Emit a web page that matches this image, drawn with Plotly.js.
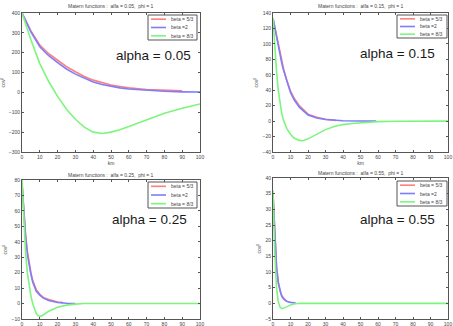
<!DOCTYPE html>
<html><head><meta charset="utf-8">
<script src="https://cdn.plot.ly/plotly-3.0.1.min.js"></script>
<style>html,body{margin:0;padding:0;background:#fff}#chart{width:453px;height:326px}</style>
</head><body><div id="chart"></div>
<script>
// ---------- data ----------
const seriesNames = ["beta = 5/3", "beta =2", "beta = 8/3"];
const alphas = ["0.05", "0.15", "0.25", "0.55"];
const xTicks = [0, 10, 20, 30, 40, 50, 60, 70, 80, 90, 100];

// panel 1 (alfa = 0.05)
const p1RedX   = [0, 5, 10, 15, 20, 25, 30, 35, 40, 45, 50, 55, 60, 70, 80, 90];
const p1RedY   = [400, 310, 238, 195, 162, 130, 104, 80, 62, 48, 37, 30, 23, 15, 11, 8];
const p1BlueX  = [0, 5, 10, 15, 20, 25, 30, 35, 40, 45, 50, 55, 60, 70, 80, 90, 100];
const p1BlueY  = [400, 305, 230, 185, 150, 118, 92, 70, 52, 40, 30, 23, 17, 10, 6, 3, 2];
const p1GreenX = [0, 5, 10, 15, 20, 25, 30, 35, 40, 45, 50, 55, 60, 65, 70, 80, 90, 100];
const p1GreenY = [400, 265, 145, 55, -20, -85, -135, -175, -200, -207, -200, -188, -172, -155, -137, -105, -80, -58];
const p1YTicks = [-300, -200, -100, 0, 100, 200, 300, 400];

// panel 2 (alfa = 0.15)
const p2RedX   = [0, 2, 4, 5, 6, 8, 10, 12, 15, 20, 25, 30, 36];
const p2RedY   = [133, 110, 88, 78, 68, 52, 39, 30, 20, 9, 5, 2.5, 1];
const p2BlueX  = [0, 2, 4, 5, 6, 8, 10, 12, 15, 20, 25, 30, 35, 40, 50, 59];
const p2BlueY  = [133, 108, 85, 75, 66, 50, 37, 28, 18, 8, 4, 2, 1, 0.5, 0.2, 0];
const p2GreenX = [0, 1, 2, 3, 4, 5, 6, 8, 10, 12, 15, 17, 20, 25, 30, 35, 40, 45, 50, 60, 70, 80, 100];
const p2GreenY = [133, 95, 65, 40, 22, 10, 1, -10, -17, -22, -25, -25.5, -23, -17, -11, -7, -4.5, -3, -2, -0.7, -0.2, 0, 0];
const p2YTicks = [-40, -20, 0, 20, 40, 60, 80, 100, 120, 140];

// panel 3 (alfa = 0.25)
const p3RedX   = [0, 1, 2, 3, 4, 5, 6, 8, 10, 12, 15, 20, 23];
const p3RedY   = [78, 60, 45, 34, 26, 20, 15, 9, 6, 4, 2.6, 1, 0.6];
const p3BlueX  = [0, 1, 2, 3, 4, 5, 6, 8, 10, 12, 15, 20, 25, 30];
const p3BlueY  = [78, 58, 43, 32, 25, 19, 14, 8, 5.5, 3.5, 2, 0.7, 0.2, 0];
const p3GreenX = [0, 1, 2, 3, 4, 5, 6, 7, 8, 9, 10, 11, 12, 15, 20, 25, 30, 35, 100];
const p3GreenY = [80, 55, 33, 20, 11, 5, 0, -4, -6.5, -7.8, -8.2, -8, -7.3, -5, -2.4, -1, -0.4, 0, 0];
const p3YTicks = [-10, 0, 10, 20, 30, 40, 50, 60, 70, 80];

// panel 4 (alfa = 0.55)
const p4RedX   = [0, 1, 2, 3, 4, 5, 6, 7, 8];
const p4RedY   = [35, 21, 12, 7, 4, 2.5, 1.6, 1, 0.6];
const p4BlueX  = [0, 1, 2, 3, 4, 5, 6, 7, 8, 10, 13];
const p4BlueY  = [35, 20.5, 11.5, 6.5, 3.8, 2.2, 1.4, 0.9, 0.6, 0.3, 0.1];
const p4GreenX = [0, 0.5, 1, 2, 3, 4, 5, 6, 7, 8, 10, 12, 15, 100];
const p4GreenY = [36, 25, 16, 5, 0.5, -1.2, -1.7, -1.6, -1.3, -1, -0.5, -0.2, 0, 0];
const p4YTicks = [-5, 0, 5, 10, 15, 20, 25, 30, 35, 40];

// ---------- layout helpers ----------
const W = 453, H = 326;
const colors = ["rgb(255,125,125)", "rgb(125,125,255)", "rgb(125,245,125)"];
const fx = p => p / W;
const fy = p => 1 - p / H;

const panels = [
  {xs: [p1RedX, p1BlueX, p1GreenX], ys: [p1RedY, p1BlueY, p1GreenY], yr: [-300, 400], yt: p1YTicks,
   box: [22, 200, 13, 152], leg: [148, 197, 15, 40], title: 6, lab: [114, 55], km: true},
  {xs: [p2RedX, p2BlueX, p2GreenX], ys: [p2RedY, p2BlueY, p2GreenY], yr: [-40, 140], yt: p2YTicks,
   box: [273, 448, 13, 152], leg: [397, 447, 15, 38], title: 6, lab: [358, 54], km: true},
  {xs: [p3RedX, p3BlueX, p3GreenX], ys: [p3RedY, p3BlueY, p3GreenY], yr: [-10, 80], yt: p3YTicks,
   box: [22, 200, 180, 319], leg: [148, 197, 182, 208], title: 175, lab: [110, 219], km: false},
  {xs: [p4RedX, p4BlueX, p4GreenX], ys: [p4RedY, p4BlueY, p4GreenY], yr: [-5, 40], yt: p4YTicks,
   box: [273, 448, 178, 319], leg: [397, 447, 181, 206], title: 173, lab: [358, 219], km: false}
];

const tickFont = {family: "Liberation Sans, Arial, sans-serif", size: 5, color: "#444"};
const data = [];
const layout = {
  width: W, height: H, margin: {l: 0, r: 0, t: 0, b: 0},
  paper_bgcolor: "#fff", plot_bgcolor: "#fff", showlegend: false,
  annotations: [], shapes: []
};

panels.forEach((p, i) => {
  const n = i + 1;
  const xa = "x" + (n === 1 ? "" : n), ya = "y" + (n === 1 ? "" : n);
  for (let s = 0; s < 3; s++) {
    data.push({x: p.xs[s], y: p.ys[s], xaxis: xa, yaxis: ya, type: "scatter", mode: "lines",
      name: seriesNames[s], line: {color: colors[s], width: 1.6}, hoverinfo: "skip"});
  }
  const axCommon = {showgrid: false, zeroline: false, showline: true, linecolor: "#555", linewidth: 1,
    mirror: "ticks", ticks: "inside", ticklen: 2, tickcolor: "#555", tickfont: tickFont,
    ticklabeloverflow: "allow"};
  const xAx = Object.assign({}, axCommon, {
    domain: [fx(p.box[0]), fx(p.box[1])], range: [0, 100], tickvals: xTicks, anchor: ya});
  if (p.km) xAx.title = {text: "km", font: tickFont, standoff: 2};
  layout["xaxis" + (n === 1 ? "" : n)] = xAx;
  layout["yaxis" + (n === 1 ? "" : n)] = Object.assign({}, axCommon, {
    domain: [fy(p.box[3]), fy(p.box[2])], range: p.yr, tickvals: p.yt, anchor: xa,
    title: {text: "cov<sup>β</sup>", font: tickFont, standoff: 3}});
  // title
  layout.annotations.push({xref: "paper", yref: "paper", x: fx((p.box[0] + p.box[1]) / 2), y: fy(p.title),
    xanchor: "center", yanchor: "middle", showarrow: false,
    text: "Matern functions :  alfa = " + alphas[i] + ",  phi = 1", font: tickFont});
  // alpha label
  layout.annotations.push({xref: "paper", yref: "paper", x: fx(p.lab[0]), y: fy(p.lab[1]),
    xanchor: "left", yanchor: "middle", showarrow: false,
    text: "alpha = " + alphas[i], font: {family: "Liberation Sans, Arial, sans-serif", size: 13.5, color: "#1a1a1a"}});
  // legend box
  const [lx0, lx1, ly0, ly1] = p.leg;
  layout.shapes.push({type: "rect", xref: "paper", yref: "paper", x0: fx(lx0), x1: fx(lx1), y0: fy(ly1), y1: fy(ly0),
    line: {color: "#555", width: 1}, fillcolor: "#fff"});
  const rowH = (ly1 - ly0) / 3;
  for (let s = 0; s < 3; s++) {
    const yy = ly0 + rowH * (s + 0.5);
    layout.shapes.push({type: "line", xref: "paper", yref: "paper", x0: fx(lx0 + 3), x1: fx(lx0 + 18),
      y0: fy(yy), y1: fy(yy), line: {color: colors[s], width: 1.6}});
    layout.annotations.push({xref: "paper", yref: "paper", x: fx(lx0 + 21), y: fy(yy), xanchor: "left",
      yanchor: "middle", showarrow: false, text: seriesNames[s], font: tickFont});
  }
});

Plotly.newPlot("chart", data, layout, {staticPlot: true});
</script></body></html>
